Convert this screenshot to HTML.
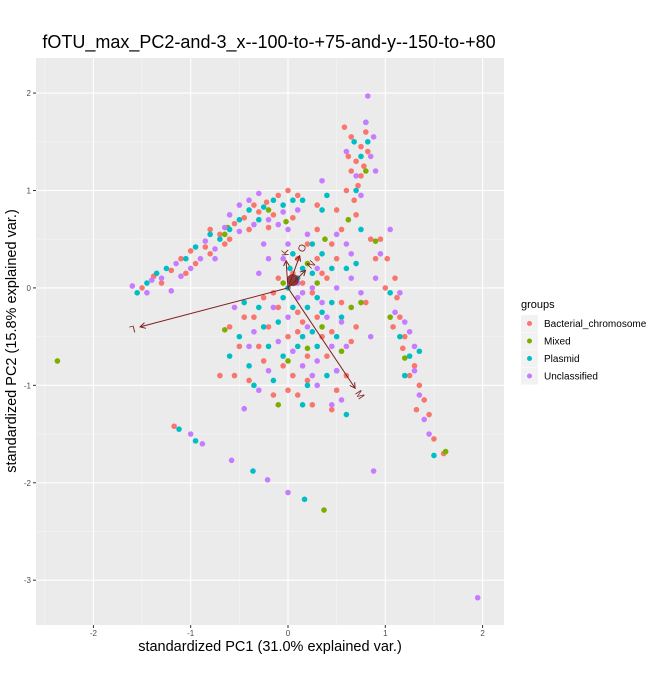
<!DOCTYPE html>
<html><head><meta charset="utf-8"><style>
body{margin:0;background:#fff;font-family:"Liberation Sans",sans-serif}
</style></head><body>
<svg id="chart" width="660" height="689" xmlns="http://www.w3.org/2000/svg" font-family="Liberation Sans, sans-serif">
<text x="269" y="48" font-size="18" text-anchor="middle" fill="#000">fOTU_max_PC2-and-3_x--100-to-+75-and-y--150-to-+80</text>
<rect x="36" y="58" width="468" height="567" fill="#EBEBEB"/>
<g id="grid"></g><g id="pts"></g><g id="arrows"></g><g id="ticks"></g>
<text x="270" y="651" font-size="14.5" text-anchor="middle">standardized PC1 (31.0% explained var.)</text>
<text transform="translate(16,341) rotate(-90)" font-size="14.5" text-anchor="middle">standardized PC2 (15.8% explained var.)</text>
<g>
<text x="521" y="308" font-size="11">groups</text>
<g id="leg"></g></g>
</svg>
<script>
const groupNames=["Bacterial_chromosome","Mixed","Plasmid","Unclassified"];
const groupColors=["#F8766D","#7CAE00","#00BFC4","#C77CFF"];
const xTicks=[-2,-1,0,1,2];
const yTicks=[2,1,0,-1,-2,-3];
const bacterial=[[-1.5,0.0],[-1.38,0.12],[-1.2,0.18],[-1.1,0.3],[-1.0,0.38],[-0.85,0.42],[-0.7,0.55],[-0.55,0.66],[-0.45,0.72],[-0.3,0.78],[-0.22,0.88],[-0.1,0.95],[0.0,1.0],[0.1,0.95],[-0.6,0.5],[-0.8,0.6],[-0.35,0.85],[-0.15,0.75],[0.6,1.0],[0.65,1.2],[0.7,1.3],[0.75,1.45],[0.8,1.6],[0.58,1.65],[0.72,1.05],[0.68,0.9],[0.78,1.25],[0.62,1.35],[0.95,0.5],[1.02,0.3],[1.1,0.1],[1.12,-0.1],[1.15,-0.3],[1.2,-0.5],[1.3,-0.8],[1.35,-1.0],[1.4,-1.15],[1.45,-1.3],[1.5,-1.55],[1.6,-1.7],[-0.7,-0.9],[-0.55,-0.9],[-0.4,-0.95],[-0.3,-0.6],[-0.2,-0.4],[-0.1,-0.2],[0.0,-0.5],[0.05,-0.9],[0.1,-1.1],[0.2,-0.7],[0.3,-0.3],[0.35,-0.5],[0.4,0.1],[0.5,0.3],[0.55,0.6],[0.3,0.6],[0.2,0.45],[0.1,0.3],[-0.1,0.1],[0.25,-1.2],[0.45,-1.25],[0.6,-0.9],[0.7,-0.4],[0.8,-0.15],[0.85,0.5],[-0.45,-0.3],[-0.25,-0.1],[0.15,-0.35],[-0.6,-0.4],[0.0,-1.05],[-1.17,-1.42],
[-1.3,0.05],[-0.95,0.25],[-0.65,0.45],[-0.4,0.6],[-0.2,0.62],[0.05,0.72],[0.3,0.3],[0.45,0.45],[0.25,-0.05],[0.1,-0.45],[-0.05,-0.8],[-0.25,-0.75],[-0.35,-0.3],[0.4,-0.7],[0.55,-0.15],[0.65,-0.55],[0.15,0.05],[0.05,0.15],[-0.15,-0.05],[0.35,0.15],[0.7,0.75],[0.75,1.15],[0.82,1.4],[0.65,1.55],[0.9,0.3],[1.0,0.0],[1.08,-0.4],[1.18,-0.62],[1.25,-0.9],[1.32,-1.25],[-0.15,-1.1],[0.2,-0.95],[0.5,-1.05],[-0.5,-0.6],[0.3,0.85],[0.5,0.8],[-0.8,0.35],[-1.05,0.15],[0.1,-0.25],[0.45,-0.45]];
const mixed=[[-2.37,-0.75],[0.37,-2.28],[1.62,-1.68],[-0.65,0.55],[-0.65,-0.43],[0.38,0.5],[0.9,0.48],[0.62,0.7],[0.2,-0.62],[0.55,-0.65],[0.0,-0.75],[-0.2,0.8],[0.8,1.2],[1.2,-0.72],[0.75,-0.15],[-0.05,0.05],[0.35,-0.4],[-0.1,-1.2],[0.65,-0.2],[-0.02,0.68],[-0.62,0.62],[0.2,0.25],[1.05,-0.3],[0.3,0.05]];
const plasmid=[[-1.55,-0.05],[-1.45,0.05],[-1.25,0.2],[-1.05,0.3],[-0.95,0.42],[-0.8,0.55],[-0.6,0.6],[-0.5,0.7],[-0.4,0.8],[-0.25,0.83],[-0.15,0.9],[-0.05,0.85],[0.05,0.9],[-1.12,-1.45],[-0.95,-1.57],[-0.36,-1.88],[0.17,-2.17],[-0.5,-0.5],[-0.4,-0.8],[-0.3,-0.2],[-0.2,-0.6],[-0.1,-0.35],[0.0,0.0],[0.05,-0.2],[0.1,-0.6],[0.15,0.2],[0.25,0.15],[0.3,-0.1],[0.35,0.35],[0.45,-0.15],[0.5,-0.5],[0.6,0.2],[0.7,0.25],[0.4,-0.9],[0.2,-1.0],[-0.15,-0.95],[-0.6,-0.7],[0.6,-1.3],[0.15,-1.2],[1.15,-0.5],[1.25,-0.7],[1.5,-1.72],[0.35,0.8],[0.75,1.35],[0.8,1.7],[0.68,1.5],[0.4,0.95],[1.05,-0.05],[0.25,-0.45],[-0.05,-0.7],
[-1.35,0.15],[-0.7,0.5],[-0.3,0.7],[0.15,0.9],[0.05,0.35],[0.1,0.1],[-0.05,-0.1],[0.2,-0.2],[0.35,-0.25],[0.15,-0.5],[-0.25,-0.4],[0.45,0.2],[0.55,-0.3],[0.3,-0.6],[-0.35,-1.0],[0.75,0.6],[0.7,1.0],[0.82,1.5],[1.2,-0.9],[1.35,-0.65],[-0.45,-0.15],[0.02,0.2],[0.5,-0.85],[0.25,0.45]];
const unclassified=[[-1.6,0.02],[-1.45,-0.05],[-1.3,0.1],[-1.15,0.25],[-1.0,0.2],[-0.9,0.3],[-0.75,0.4],[-0.65,0.62],[-0.5,0.58],[-0.35,0.65],[-0.2,0.7],[-0.05,0.78],[-0.3,0.97],[-0.5,0.85],[-0.75,0.3],[-1.2,-0.03],[0.35,1.1],[-1.0,-1.5],[-0.88,-1.6],[-0.58,-1.77],[-0.21,-1.97],[0.0,-2.1],[1.95,-3.18],[0.88,-1.88],[0.82,1.97],[-0.45,-1.24],[-0.55,-0.2],[-0.35,-0.45],[-0.2,0.3],[-0.1,-0.55],[0.0,-0.3],[0.1,-0.1],[0.15,-0.8],[0.25,0.0],[0.3,-0.75],[0.4,-0.3],[0.5,0.0],[0.55,-0.35],[0.65,0.1],[0.75,-0.05],[0.85,-0.5],[0.45,-1.2],[0.3,-1.0],[-0.3,-1.05],[0.6,0.45],[0.9,0.1],[1.05,0.6],[1.1,-0.25],[1.2,-0.35],[1.3,-0.6],[1.35,-1.1],[1.4,-1.35],[1.3,-0.85],[0.7,1.15],[0.85,1.35],[0.75,0.95],[0.88,1.55],[0.2,0.55],[0.0,0.6],[-0.25,0.45],[-0.05,0.3],[0.15,-0.05],[0.5,-0.85],
[-1.4,0.08],[-1.1,0.12],[-0.85,0.48],[-0.6,0.75],[-0.4,0.9],[-0.1,0.65],[0.1,0.8],[0.0,0.45],[-0.3,0.15],[-0.15,-0.2],[0.05,-0.65],[0.2,-0.4],[0.35,-0.15],[0.45,-0.6],[0.6,-0.6],[0.25,-0.9],[-0.2,-0.85],[-0.4,-0.6],[0.1,0.05],[0.3,0.2],[0.5,0.55],[0.65,0.35],[0.95,0.35],[1.15,-0.05],[1.25,-0.45],[1.45,-1.5],[0.8,1.7],[0.6,1.4],[0.9,1.2],[0.55,-1.15]];
const arrowLabels=["L","M","K","O","N"];
const arrowX=[-1.52,0.69,-0.02,0.12,0.18];
const arrowY=[-0.4,-1.03,0.28,0.33,0.18];

const NS="http://www.w3.org/2000/svg";
const X0=36,X1=504,Y0=58,Y1=625,xmin=-2.59,xmax=2.22,ymin=-3.46,ymax=2.36;
const sx=v=>X0+(v-xmin)/(xmax-xmin)*(X1-X0);
const sy=v=>Y1-(v-ymin)/(ymax-ymin)*(Y1-Y0);
function mk(t,a,p){const e=document.createElementNS(NS,t);for(const k in a)e.setAttribute(k,a[k]);p.appendChild(e);return e;}
const grid=document.getElementById('grid'),ticks=document.getElementById('ticks');
for(let v=-2.5;v<=2;v+=1){const l=mk('line',{x1:sx(v),x2:sx(v),y1:Y0,y2:Y1,stroke:'#F5F5F5','stroke-width':0.6},grid);}
for(let v=-3.5;v<=2.5;v+=1){if(v<ymin||v>ymax)continue;const l=mk('line',{x1:X0,x2:X1,y1:sy(v),y2:sy(v),stroke:'#F5F5F5','stroke-width':0.6},grid);}
xTicks.forEach(v=>{const l=mk('line',{x1:sx(v),x2:sx(v),y1:Y0,y2:Y1,stroke:'#fff','stroke-width':1.1},grid);
mk('line',{x1:sx(v),x2:sx(v),y1:Y1,y2:Y1+3,stroke:'#333'},ticks);
const t=mk('text',{x:sx(v),y:Y1+11,'font-size':8,fill:'#4D4D4D','text-anchor':'middle'},ticks);t.textContent=v;});
yTicks.forEach(v=>{const l=mk('line',{x1:X0,x2:X1,y1:sy(v),y2:sy(v),stroke:'#fff','stroke-width':1.1},grid);
mk('line',{x1:X0-3,x2:X0,y1:sy(v),y2:sy(v),stroke:'#333'},ticks);
const t=mk('text',{x:X0-5,y:sy(v)+3,'font-size':8,fill:'#4D4D4D','text-anchor':'end'},ticks);t.textContent=v;});
const pts=document.getElementById('pts');
[bacterial,mixed,plasmid,unclassified].forEach((arr,g)=>arr.forEach(p=>{const c=mk('circle',{cx:sx(p[0]),cy:sy(p[1]),r:2.8,fill:groupColors[g]},pts);

}));
const ar=document.getElementById('arrows');
const col='#7F1F1F';
arrowX.forEach((ax,i)=>{const x0=sx(0),y0=sy(0),x1=sx(ax),y1=sy(arrowY[i]);
const g=mk('g',{},ar);
mk('line',{x1:x0,y1:y0,x2:x1,y2:y1,stroke:col,'stroke-width':1},g);
const a=Math.atan2(y1-y0,x1-x0),h=6;
mk('path',{d:`M${x1-h*Math.cos(a-0.5)},${y1-h*Math.sin(a-0.5)}L${x1},${y1}L${x1-h*Math.cos(a+0.5)},${y1-h*Math.sin(a+0.5)}`,stroke:col,fill:'none','stroke-width':1},g);
const lx=x1+8*Math.cos(a),ly=y1+8*Math.sin(a);
const t=mk('text',{x:lx,y:ly+3,'font-size':10,fill:col,'text-anchor':'middle',transform:`rotate(${a*180/Math.PI},${lx},${ly})`},g);t.textContent=arrowLabels[i];});
mk('circle',{cx:sx(0.05),cy:sy(0.08),r:6,fill:col,opacity:0.85},ar);
const leg=document.getElementById('leg');
groupNames.forEach((n,i)=>{const y=315+i*17.5;const g=mk('g',{},leg);
mk('rect',{x:521,y:y,width:17,height:17,fill:'#F2F2F2'},g);
mk('circle',{cx:529.5,cy:y+8.5,r:2.5,fill:groupColors[i]},g);
const t=mk('text',{x:544,y:y+12,'font-size':10,fill:'#000'},g);t.textContent=n;});
</script>
</body></html>
